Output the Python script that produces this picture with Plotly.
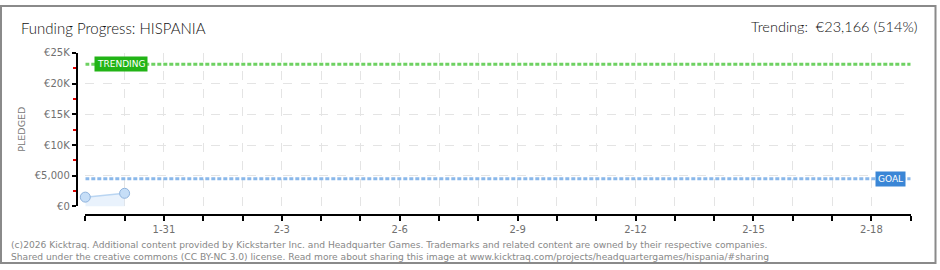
import plotly.graph_objects as go

# ---- data ----
dates = ["2026-01-29", "2026-01-30"]
pledged = [1516, 2140]
goal = 4500
trending = 23166
trend_pct = 514
x_start = "2026-01-29"
x_end = "2026-02-19"
tick_dates = ["2026-01-%02d" % d for d in (29, 30, 31)] + ["2026-02-%02d" % d for d in range(1, 20)]
tick_labels = ["", "", "1-31", "", "", "2-3", "", "", "2-6", "", "", "2-9", "", "", "2-12",
               "", "", "2-15", "", "", "2-18", ""]
y_tickvals = [0, 5000, 10000, 15000, 20000, 25000]
y_ticktext = ["€0", "€5,000", "€10K", "€15K", "€20K", "€25K"]

W, H = 940, 270
def px(x):
    return x / W
def py(y):
    return 1 - y / H

fig = go.Figure()

# pledged area + line
fig.add_trace(go.Scatter(
    x=dates, y=pledged, mode="lines+markers",
    line=dict(color="#b9d5f2", width=1.5),
    fill="tozeroy", fillcolor="rgba(215,232,250,0.55)",
    marker=dict(size=10, color="#c6def7", line=dict(color="#8fb3dd", width=1)),
    cliponaxis=False,
    hoverinfo="skip", showlegend=False,
))
# goal line
fig.add_trace(go.Scatter(
    x=[x_start, x_end], y=[goal, goal], mode="lines",
    line=dict(color="#8ab8ea", width=3, dash="4px,2px"),
    hoverinfo="skip", showlegend=False,
))
# trending line
fig.add_trace(go.Scatter(
    x=[x_start, x_end], y=[trending, trending], mode="lines",
    line=dict(color="#6ed162", width=3, dash="4px,2px"),
    hoverinfo="skip", showlegend=False,
))

tick_font = dict(family="DejaVu Sans", size=10, color="#707070")

fig.update_layout(
    width=W, height=H,
    margin=dict(l=0, r=0, t=0, b=0),
    paper_bgcolor="white", plot_bgcolor="white",
    xaxis=dict(
        type="date", range=[x_start, x_end],
        domain=[px(85.3), px(910.7)],
        anchor="free", position=py(219.3),
        showline=True, linecolor="#000000", linewidth=1.5,
        tickmode="array", tickvals=tick_dates, ticktext=tick_labels,
        ticks="outside", ticklen=5, tickcolor="#000000", tickwidth=1.5,
        tickfont=tick_font,
        showgrid=True, gridcolor="#e4e4e4", griddash="dash", gridwidth=1,
        zeroline=False, fixedrange=True,
    ),
    yaxis=dict(
        range=[0, 25000],
        domain=[py(210), py(50)],
        anchor="free", position=px(76.5),
        showline=True, linecolor="#000000", linewidth=1.5,
        tickmode="array", tickvals=y_tickvals, ticktext=y_ticktext,
        ticks="outside", ticklen=4, tickcolor="#000000", tickwidth=1.5,
        tickfont=tick_font,
        minor=dict(dtick=2500, tick0=0, ticks="outside", ticklen=3, tickcolor="#e00000",
                   tickwidth=1.5, showgrid=False),
        showgrid=True, gridcolor="#e4e4e4", griddash="dash", gridwidth=1,
        zeroline=False, fixedrange=True,
    ),
    showlegend=False,
)

annotations = [
    dict(text="Funding Progress: HISPANIA", xref="paper", yref="paper",
         x=px(19), y=py(24), xanchor="left", yanchor="middle", showarrow=False,
         font=dict(family="Lato", size=15, color="#111111", weight=300)),
    dict(text="Trending:  €{:,} ({}%)".format(trending, trend_pct), xref="paper", yref="paper",
         x=px(919), y=py(22), xanchor="right", yanchor="middle", showarrow=False,
         font=dict(family="Lato", size=14.5, color="#111111", weight=300)),
    dict(text="PLEDGED", xref="paper", yref="paper", x=px(22), y=py(130),
         xanchor="center", yanchor="middle", textangle=-90, showarrow=False,
         font=dict(family="DejaVu Sans", size=9.5, color="#777777")),
    dict(text="TRENDING", x=x_start, y=trending, xref="x", yref="y",
         xanchor="left", yanchor="middle", xshift=9, showarrow=False,
         bgcolor="#22b416", borderpad=2,
         font=dict(family="DejaVu Sans", size=9, color="white")),
    dict(text="GOAL", x=x_end, y=goal, xref="x", yref="y",
         xanchor="right", yanchor="middle", xshift=-5, showarrow=False,
         bgcolor="#3a86d6", borderpad=2,
         font=dict(family="DejaVu Sans", size=9, color="white")),
    dict(text="(c)2026 Kicktraq. Additional content provided by Kickstarter Inc. and Headquarter Games. "
              "Trademarks and related content are owned by their respective companies.<br>"
              "Shared under the creative commons (CC BY-NC 3.0) license. Read more about sharing this image at "
              "www.kicktraq.com/projects/headquartergames/hispania/#sharing",
         xref="paper", yref="paper", x=px(9), y=py(256), xanchor="left", yanchor="middle",
         align="left", showarrow=False,
         font=dict(family="DejaVu Sans", size=9.15, color="#888888")),
]
fig.update_layout(annotations=annotations)

fig.add_shape(type="rect", xref="paper", yref="paper",
              x0=px(1), x1=px(935.5), y0=py(269), y1=py(1),
              line=dict(color="#8a8a8a", width=2), fillcolor="rgba(0,0,0,0)", layer="above")

fig.write_html("out.html")
